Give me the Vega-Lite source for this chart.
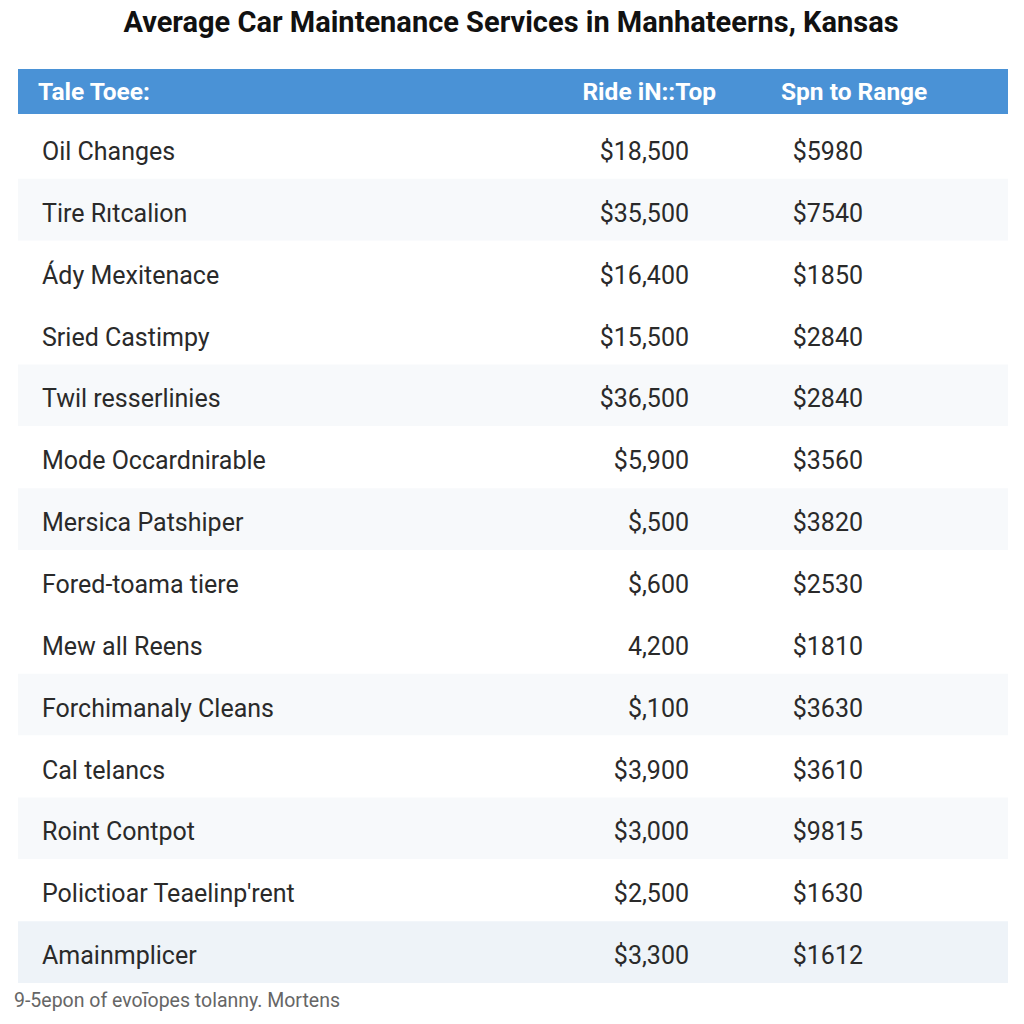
{
  "$schema": "https://vega.github.io/schema/vega-lite/v6.json",
  "width": 1024,
  "height": 1024,
  "autosize": {"type": "fit", "contains": "padding"},
  "padding": 0,
  "background": "#ffffff",
  "config": {"view": {"stroke": null}},
  "datasets": {
    "rows": [
      {"service": "Oil Changes", "price": "$18,500", "range": "$5980"},
      {"service": "Tire Rıtcalion", "price": "$35,500", "range": "$7540"},
      {"service": "Ády Mexitenace", "price": "$16,400", "range": "$1850"},
      {"service": "Sried Castimpy", "price": "$15,500", "range": "$2840"},
      {"service": "Twil resserlinies", "price": "$36,500", "range": "$2840"},
      {"service": "Mode Occardnirable", "price": "$5,900", "range": "$3560"},
      {"service": "Mersica Patshiper", "price": "$,500", "range": "$3820"},
      {"service": "Fored-toama tiere", "price": "$,600", "range": "$2530"},
      {"service": "Mew all Reens", "price": "4,200", "range": "$1810"},
      {"service": "Forchimanaly Cleans", "price": "$,100", "range": "$3630"},
      {"service": "Cal telancs", "price": "$3,900", "range": "$3610"},
      {"service": "Roint Contpot", "price": "$3,000", "range": "$9815"},
      {"service": "Polictioar Teaelinp'rent", "price": "$2,500", "range": "$1630"},
      {"service": "Amainmplicer", "price": "$3,300", "range": "$1612"}
    ],
    "frame": [
      {"title": "Average Car Maintenance Services in Manhateerns, Kansas", "h1": "Tale Toee:", "h2": "Ride iN::Top", "h3": "Spn to Range", "note": "9-5epon of evoīopes tolanny. Mortens"}
    ]
  },
  "resolve": {"scale": {"y": "independent"}},
  "layer": [
    {
      "data": {"name": "frame"},
      "layer": [
        {
          "mark": {"type": "rect", "color": "#4a92d6"},
          "encoding": {
            "x": {"datum": 18, "type": "quantitative", "scale": {"domain": [0, 1024], "nice": false, "zero": false}, "axis": null},
            "x2": {"datum": 1008},
            "y": {"datum": 69, "type": "quantitative", "scale": {"domain": [0, 1024], "nice": false, "zero": false, "reverse": true}, "axis": null},
            "y2": {"datum": 114}
          }
        },
        {
          "mark": {"type": "text", "font": "Roboto", "fontWeight": "bold", "fontSize": 29, "color": "#111111", "align": "center", "baseline": "middle"},
          "encoding": {
            "x": {"datum": 511, "type": "quantitative"},
            "y": {"datum": 23, "type": "quantitative"},
            "text": {"field": "title"}
          }
        },
        {
          "mark": {"type": "text", "font": "Roboto", "fontWeight": "bold", "fontSize": 24.5, "color": "#ffffff", "align": "left", "baseline": "middle"},
          "encoding": {
            "x": {"datum": 38, "type": "quantitative"},
            "y": {"datum": 93, "type": "quantitative"},
            "text": {"field": "h1"}
          }
        },
        {
          "mark": {"type": "text", "font": "Roboto", "fontWeight": "bold", "fontSize": 24.5, "color": "#ffffff", "align": "right", "baseline": "middle"},
          "encoding": {
            "x": {"datum": 716, "type": "quantitative"},
            "y": {"datum": 93, "type": "quantitative"},
            "text": {"field": "h2"}
          }
        },
        {
          "mark": {"type": "text", "font": "Roboto", "fontWeight": "bold", "fontSize": 24.5, "color": "#ffffff", "align": "left", "baseline": "middle"},
          "encoding": {
            "x": {"datum": 781, "type": "quantitative"},
            "y": {"datum": 93, "type": "quantitative"},
            "text": {"field": "h3"}
          }
        },
        {
          "mark": {"type": "text", "font": "Roboto", "fontSize": 19.5, "color": "#666666", "align": "left", "baseline": "middle"},
          "encoding": {
            "x": {"datum": 14, "type": "quantitative"},
            "y": {"datum": 1001, "type": "quantitative"},
            "text": {"field": "note"}
          }
        }
      ]
    },
    {
      "data": {"name": "rows"},
      "transform": [{"window": [{"op": "row_number", "as": "rn"}]}],
      "encoding": {
        "y": {"field": "service", "type": "nominal", "sort": null, "scale": {"range": [117, 983], "paddingInner": 0, "paddingOuter": 0}, "axis": null}
      },
      "layer": [
        {
          "mark": {"type": "rect"},
          "encoding": {
            "x": {"datum": 18, "type": "quantitative"},
            "x2": {"datum": 1008},
            "color": {
              "condition": [
                {"test": "datum.rn == 14", "value": "#eef3f8"},
                {"test": "indexof([2,5,7,10,12], datum.rn) >= 0", "value": "#f7f9fb"}
              ],
              "value": "#ffffff"
            }
          }
        },
        {
          "mark": {"type": "text", "font": "Roboto", "fontSize": 25, "color": "#2a2a2a", "align": "left", "baseline": "middle", "dy": 4},
          "encoding": {
            "x": {"datum": 42, "type": "quantitative"},
            "text": {"field": "service"}
          }
        },
        {
          "mark": {"type": "text", "font": "Roboto", "fontSize": 25, "color": "#2a2a2a", "align": "right", "baseline": "middle", "dy": 4},
          "encoding": {
            "x": {"datum": 689, "type": "quantitative"},
            "text": {"field": "price"}
          }
        },
        {
          "mark": {"type": "text", "font": "Roboto", "fontSize": 25, "color": "#2a2a2a", "align": "right", "baseline": "middle", "dy": 4},
          "encoding": {
            "x": {"datum": 863, "type": "quantitative"},
            "text": {"field": "range"}
          }
        }
      ]
    }
  ]
}
